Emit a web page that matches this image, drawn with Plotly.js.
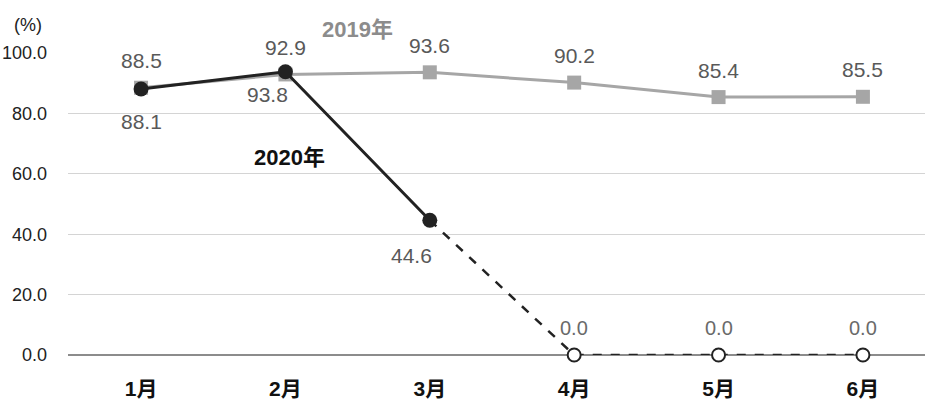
<!DOCTYPE html>
<html><head><meta charset="utf-8">
<script src="https://cdn.plot.ly/plotly-3.0.1.min.js"></script>
<style>html,body{margin:0;padding:0;background:#fff}#c{width:925px;height:399px}</style>
</head><body><div id="c"></div>
<script>
const months = ['1月','2月','3月','4月','5月','6月'];
const v2019 = [88.5, 92.9, 93.6, 90.2, 85.4, 85.5];
const v2020 = [88.1, 93.8, 44.6, 0.0, 0.0, 0.0];
const yTicks = [0, 20, 40, 60, 80, 100];
const yTickText = ['0.0','20.0','40.0','60.0','80.0','100.0'];

const solidIdx = [0,1,2];
const dashIdx = [2,3,4,5];
const openIdx = [3,4,5];

const traces = [
  {x: months, y: v2019, mode:'lines+markers', line:{color:'#a6a6a6', width:3},
   marker:{symbol:'square', size:14, color:'#a6a6a6'}, cliponaxis:false},
  {x: dashIdx.map(i=>months[i]), y: dashIdx.map(i=>v2020[i]), mode:'lines',
   line:{color:'#222', width:2.5, dash:'dash'}, cliponaxis:false},
  {x: solidIdx.map(i=>months[i]), y: solidIdx.map(i=>v2020[i]), mode:'lines+markers',
   line:{color:'#222', width:3}, marker:{symbol:'circle', size:15, color:'#222'}, cliponaxis:false},
  {x: openIdx.map(i=>months[i]), y: openIdx.map(i=>v2020[i]), mode:'markers',
   marker:{symbol:'circle', size:13, color:'#fff', line:{color:'#222', width:2}}, cliponaxis:false}
];

const lblFont = {family:'Liberation Sans, Arial, sans-serif', size:21, color:'#595959'};
const zeroFont = {family:'Liberation Sans Narrow, Liberation Sans, Arial, sans-serif', size:20, color:'#6a6a6a'};
const ann = [];
v2019.forEach((v,i)=>ann.push({x:months[i], y:v, text:v.toFixed(1), showarrow:false, yshift:27, font:lblFont}));
const off2020 = [[0,-33],[-18,-23],[-18,-35],[0,27],[0,27],[0,27]];
v2020.forEach((v,i)=>ann.push({x:months[i], y:v, text:v.toFixed(1), showarrow:false,
  xshift:off2020[i][0], yshift:off2020[i][1], font: v===0 ? zeroFont : lblFont}));
ann.push({xref:'paper', yref:'paper', x:(28-68)/857, y:(355-25)/302, xanchor:'center', yanchor:'middle',
  text:'(%)', showarrow:false, font:{family:'Liberation Sans, Arial, sans-serif', size:18, color:'#222'}});
ann.push({xref:'paper', yref:'paper', x:(357-68)/857, y:(355-29)/302, xanchor:'center', yanchor:'middle',
  text:'<b>2019年</b>', showarrow:false,
  font:{family:'Liberation Sans, Noto Sans CJK JP, sans-serif', size:22, color:'#8c8c8c'}});
ann.push({xref:'paper', yref:'paper', x:(289-68)/857, y:(355-157)/302, xanchor:'center', yanchor:'middle',
  text:'<b>2020年</b>', showarrow:false,
  font:{family:'Liberation Sans, Noto Sans CJK JP, sans-serif', size:22, color:'#111'}});

const layout = {
  width:925, height:399, margin:{l:68, r:0, t:53, b:44},
  paper_bgcolor:'#fff', plot_bgcolor:'#fff', showlegend:false,
  xaxis:{type:'category', range:[-0.506, 5.43], showgrid:false, zeroline:false,
    showline:false, ticks:'', ticklabelstandoff:19,
    tickfont:{family:'Liberation Sans, Noto Sans CJK JP, sans-serif', size:21, color:'#111', weight:'bold'}},
  yaxis:{range:[0,100], tickvals:yTicks, ticktext:yTickText, showgrid:true, gridcolor:'#d4d4d4', gridwidth:1,
    zeroline:true, zerolinecolor:'#8c8c8c', zerolinewidth:1.5, showline:false, ticks:'', ticklabelstandoff:20,
    tickfont:{family:'Liberation Sans, Arial, sans-serif', size:18, color:'#222'}},
  annotations: ann
};
Plotly.newPlot('c', traces, layout, {staticPlot:true, displayModeBar:false});
</script></body></html>
